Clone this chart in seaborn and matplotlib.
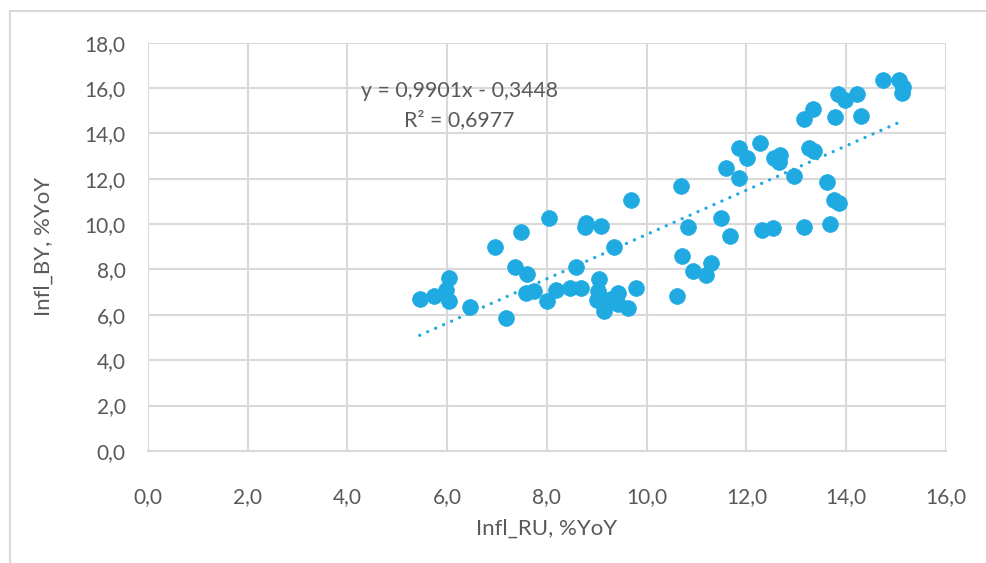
import numpy as np
import pandas as pd
import matplotlib.pyplot as plt
import seaborn as sns
from matplotlib.lines import Line2D

# inflation, % YoY
infl_ru = [5.45, 5.73, 5.97, 6.03, 6.03, 6.46, 6.96, 7.18, 7.36, 7.49,
           7.61, 7.58, 7.75, 8.05, 8.01, 8.19, 8.47, 8.69, 8.58, 8.78,
           8.77, 9.09, 9.05, 9.03, 9.00, 9.15, 9.28, 9.43, 9.42, 9.62,
           9.35, 9.78, 9.68, 10.61, 10.68, 10.82, 10.70, 10.92, 11.18, 11.28,
           11.49, 11.67, 11.60, 11.86, 11.86, 12.01, 12.28, 12.31, 12.53, 12.55,
           12.68, 12.65, 12.96, 13.15, 13.15, 13.33, 13.26, 13.35, 13.62, 13.75,
           13.85, 13.67, 13.77, 13.83, 13.97, 14.22, 14.29, 14.73, 15.05, 15.13,
           15.11]
infl_by = [6.72, 6.82, 7.08, 7.64, 6.60, 6.35, 8.98, 5.85, 8.10, 9.66,
           7.81, 6.96, 7.05, 10.29, 6.60, 7.11, 7.20, 7.20, 8.13, 10.07,
           9.88, 9.93, 7.60, 7.05, 6.66, 6.18, 6.68, 6.95, 6.48, 6.28,
           8.98, 7.20, 11.05, 6.82, 11.68, 9.88, 8.58, 7.95, 7.74, 8.30,
           10.29, 9.48, 12.48, 12.03, 13.36, 12.92, 13.57, 9.75, 9.81, 12.92,
           13.05, 12.73, 12.11, 9.89, 14.64, 15.09, 13.35, 13.21, 11.84, 11.06,
           10.91, 10.00, 14.72, 15.72, 15.45, 15.72, 14.76, 16.34, 16.34, 16.04,
           15.79]

x_ticks = [0, 2, 4, 6, 8, 10, 12, 14, 16]
x_labels = ['0,0', '2,0', '4,0', '6,0', '8,0', '10,0', '12,0', '14,0', '16,0']
y_ticks = [0, 2, 4, 6, 8, 10, 12, 14, 16, 18]
y_labels = ['0,0', '2,0', '4,0', '6,0', '8,0', '10,0', '12,0', '14,0', '16,0', '18,0']

equation = 'y = 0,9901x - 0,3448'
r2_text = 'R² = 0,6977'

df = pd.DataFrame({'ru': infl_ru, 'by': infl_by})

sns.set_style('white')
plt.rcParams['font.family'] = ['Lato', 'DejaVu Sans']

pointColor = '#1FABE2'
textColor = '#595959'
gridColor = '#D9D9D9'

fig = plt.figure(figsize=(9.86, 5.63), dpi=100)
ax = fig.add_axes([0.150, 0.199, 0.8094, 0.7253])

#dotted linear trendline, then the points
sns.regplot(x='ru', y='by', data=df, ci=None, scatter=False, truncate=True, ax=ax,
            line_kws={'color': pointColor, 'linestyle': (0, (0.01, 2.6)), 'linewidth': 2.4,
                      'dash_capstyle': 'round'})
sns.scatterplot(x='ru', y='by', data=df, ax=ax, color=pointColor, s=130,
                edgecolor=pointColor, linewidth=0.5, zorder=3)

ax.set_xlim(0, 16)
ax.set_ylim(0, 18)
ax.set_xticks(x_ticks)
ax.set_xticklabels(x_labels)
ax.set_yticks(y_ticks)
ax.set_yticklabels(y_labels)
ax.tick_params(axis='x', length=0, pad=26, labelsize=15, labelcolor=textColor)
ax.tick_params(axis='y', length=0, pad=16, labelsize=15, labelcolor=textColor)

ax.grid(True, color=gridColor, linewidth=1.5)
ax.set_axisbelow(True)
for side in ['top', 'right', 'left']:
    ax.spines[side].set_visible(False)
ax.spines['bottom'].set_color(gridColor)
ax.spines['bottom'].set_linewidth(1.5)

ax.set_xlabel('Infl_RU, %YoY', fontsize=16, color=textColor, labelpad=8)
ax.set_ylabel('Infl_BY, %YoY', fontsize=16, color=textColor, labelpad=22)

ax.text(6.25, 15.85, equation, ha='center', va='center', fontsize=15.3, color=textColor)
ax.text(6.25, 14.6, r2_text, ha='center', va='center', fontsize=15.3, color=textColor)

#chart area border (Excel style)
fig.add_artist(Line2D([10/986, 10/986], [0, 1 - 11/563], color=gridColor, linewidth=1.5,
                      transform=fig.transFigure))
fig.add_artist(Line2D([10/986, 1], [1 - 11/563, 1 - 11/563], color=gridColor, linewidth=1.5,
                      transform=fig.transFigure))

fig.savefig('out.png', dpi=100, facecolor='white')
